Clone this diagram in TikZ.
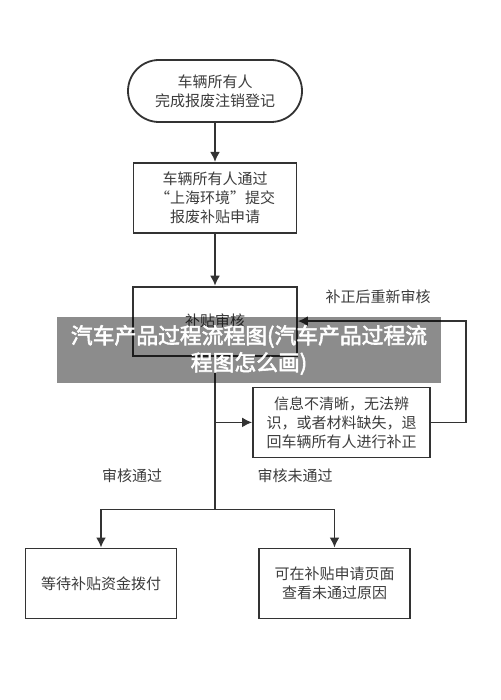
\documentclass[tikz,border=0pt]{standalone}
\usepackage{fontspec}
\setmainfont{Noto Sans CJK SC}
\newfontfamily\markfont[FakeBold=2.5]{Noto Sans CJK SC}
\usepackage{xcolor}
\usetikzlibrary{positioning,arrows.meta}
\definecolor{linegray}{HTML}{333333}
\definecolor{textgray}{HTML}{3C3C3C}

\begin{document}
\begin{tikzpicture}[x=1pt, y=1pt,
		box/.style={rectangle, draw=linegray, line width=1.8pt, align=center, text=textgray, inner sep=0pt, font=\fontsize{15}{19}\selectfont},
		startbox/.style={box, rounded corners=31pt, minimum width=174pt, minimum height=62pt},
		line/.style={draw=linegray, line width=1.8pt},
		arr/.style={line, -{Latex[length=10pt,width=10pt]}},
		note/.style={text=textgray, font=\fontsize{15}{19}\selectfont},
		banner/.style={fill=black, fill opacity=0.45, text opacity=1, text=white, align=center, minimum width=384pt, minimum height=66pt, font=\markfont\fontsize{21.8}{27}\selectfont},
		]
		\useasboundingbox (0,0) rectangle (500,-700);

		%Main Nodes
		\node[startbox]	(start)		at (215,-91)			{车辆所有人\\完成报废注销登记};
		\node[box, minimum width=163pt, minimum height=70pt]	(submit)	[below=39pt of start]	{车辆所有人通过\\“上海环境”提交\\报废补贴申请};
		\node[box, minimum width=164pt, minimum height=69pt]	(audit)		[below=52pt of submit]	{补贴审核};
		\node[box, minimum width=177pt, minimum height=70pt]	(reject)	[below=30pt of audit, xshift=126.5pt]	{信息不清晰，无法辨\\识，或者材料缺失，退\\回车辆所有人进行补正};
		\coordinate[below=153pt of audit]	(fork);
		\node[box, minimum width=151pt, minimum height=70pt]	(wait)		[below=38pt of fork, xshift=-114pt]		{等待补贴资金拨付};
		\node[box, minimum width=151pt, minimum height=70pt]	(fail)		[below=38pt of fork, xshift=119.5pt]	{可在补贴申请页面\\查看未通过原因};

		%Main Lines
		\draw[arr]	(start.south)	--	(submit.north);
		\draw[arr]	(submit.south)	--	(audit.north);
		\draw[line]	(audit.south)	--	(fork);
		\draw[arr]	(audit.south |- reject.west)	--	(reject.west);
		\draw[arr]	(reject.east)	--	++(35,0)	|-	(audit.east);
		\draw[arr]	(fork)	-|	(wait.north);
		\draw[arr]	(fork)	-|	(fail.north);

		%Labels
		\node[note]	(redo)		at (378,-297)	{补正后重新审核};
		\node[note]	(passed)	at (132,-476)	{审核通过};
		\node[note]	(failed)	at (295,-476)	{审核未通过};

		%Banner
		\node[banner]	(title)	at (249,-350)	{汽车产品过程流程图(汽车产品过程流\\程图怎么画)};

	\end{tikzpicture}
\end{document}
